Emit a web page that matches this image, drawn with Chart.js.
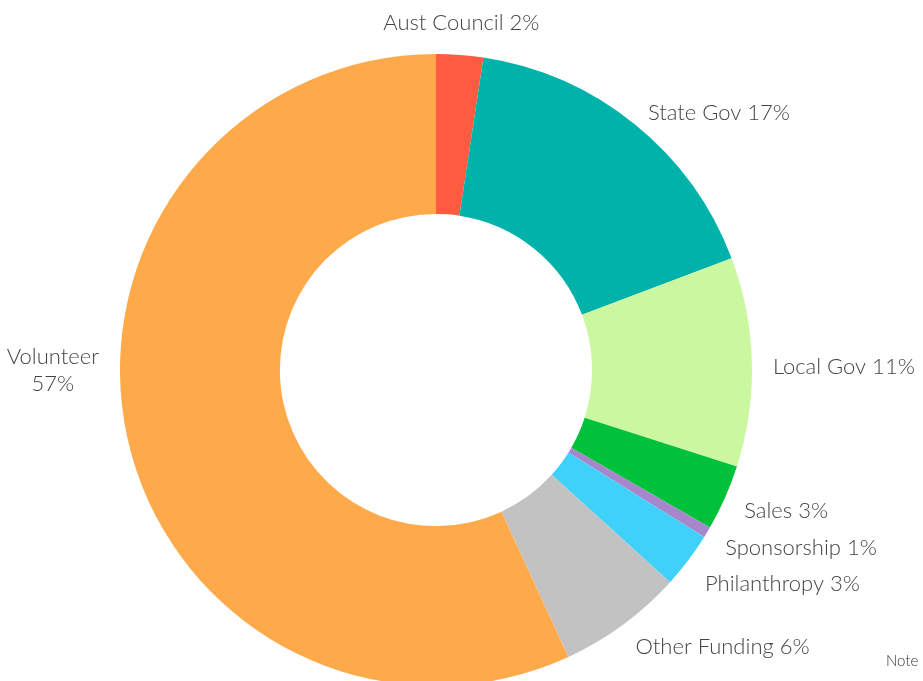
<!DOCTYPE html>
<html>
<head>
<meta charset="utf-8">
<script src="https://cdn.jsdelivr.net/npm/chart.js@4/dist/chart.umd.min.js"></script>
<style>
  html, body { margin: 0; padding: 0; background: #fff; overflow: hidden; width: 923px; height: 681px; }
  #wrap { position: relative; width: 923px; height: 681px; overflow: hidden; }
  canvas { position: absolute; left: 0; top: 0; }
  #note { position: absolute; left: 886px; top: 651px; font-family: Lato, "Open Sans", sans-serif; font-weight: 300; font-size: 15px; color: #333; white-space: nowrap; }
</style>
</head>
<body>
<div id="wrap">
  <canvas id="c" width="923" height="760"></canvas>
  <div id="note">Note</div>
</div>
<script>
// Data
const categories = ["Aust Council", "State Gov", "Local Gov", "Sales", "Sponsorship", "Philanthropy", "Other Funding", "Volunteer"];
const shares = [2.4, 16.85, 10.69, 3.37, 0.55, 2.86, 6.4, 56.88];
const shownPercents = ["2%", "17%", "11%", "3%", "1%", "3%", "6%", "57%"];
const sliceColors = ["#FE5B41", "#00B2A9", "#CCF7A1", "#00C13A", "#A886CB", "#40D1FB", "#C2C2C2", "#FFAA4A"];

const labelFont = '300 22px Lato, "Open Sans", sans-serif';
const labelColor = '#444444';
const labelGap = 21;     // distance outside the ring
const minSpacing = 36;   // min vertical spacing between side labels
const sideDrop = 5;      // small downward nudge of side labels

const labelPlugin = {
  id: 'sliceLabels',
  afterDatasetsDraw(chart) {
    const ctx = chart.ctx;
    const meta = chart.getDatasetMeta(0);
    ctx.save();
    ctx.font = labelFont;
    ctx.fillStyle = labelColor;
    const items = [];
    meta.data.forEach((arc, i) => {
      const p = arc.getProps(['x', 'y', 'startAngle', 'endAngle', 'outerRadius'], true);
      const span = p.endAngle - p.startAngle;
      let mid = (p.startAngle + p.endAngle) / 2;
      const r = p.outerRadius + labelGap;
      let text = categories[i] + ' ' + shownPercents[i];
      let x, y, align;
      if (span > Math.PI) {
        const side = Math.cos(mid) < 0 ? -1 : 1;
        x = p.x + side * r;
        y = p.y;
        align = side < 0 ? 'right' : 'left';
      } else {
        x = p.x + r * Math.cos(mid);
        y = p.y + r * Math.sin(mid);
        if (Math.abs(Math.cos(mid)) < 0.2) align = 'center';
        else { align = Math.cos(mid) < 0 ? 'right' : 'left'; y += sideDrop; }
      }
      let lines = [text];
      const w = ctx.measureText(text).width;
      if ((align === 'right' && x - w < 0) || (align === 'left' && x + w > chart.width)) {
        lines = [categories[i], shownPercents[i]];
      }
      items.push({ x, y, align, lines, top: Math.abs(Math.cos(mid)) < 0.2 });
    });
    const right = items.filter(it => it.align === 'left').sort((a, b) => a.y - b.y);
    for (let k = 1; k < right.length; k++) {
      if (right[k].y - right[k - 1].y < minSpacing) right[k].y = right[k - 1].y + minSpacing;
    }
    items.forEach(it => {
      const lh = 27;
      if (it.lines.length > 1) {
        const widths = it.lines.map(l => ctx.measureText(l).width);
        const bw = Math.max(...widths);
        const cxT = it.align === 'right' ? it.x - bw / 2 : (it.align === 'left' ? it.x + bw / 2 : it.x);
        ctx.textAlign = 'center';
        ctx.textBaseline = 'middle';
        it.lines.forEach((l, j) => {
          ctx.fillText(l, cxT, it.y + (j - (it.lines.length - 1) / 2) * lh);
        });
      } else {
        ctx.textAlign = it.align;
        ctx.textBaseline = it.top ? 'bottom' : 'middle';
        ctx.fillText(it.lines[0], it.x, it.y);
      }
    });
    ctx.restore();
  }
};

new Chart(document.getElementById('c'), {
  type: 'doughnut',
  data: {
    labels: categories,
    datasets: [{
      data: shares,
      backgroundColor: sliceColors,
      borderWidth: 0,
      hoverOffset: 0
    }]
  },
  options: {
    responsive: false,
    animation: false,
    cutout: '49.4%',
    layout: { padding: { top: 54, left: 120, right: 171, bottom: 74 } },
    plugins: {
      legend: { display: false },
      tooltip: { enabled: false },
      title: { display: false }
    }
  },
  plugins: [labelPlugin]
});
</script>
</body>
</html>
